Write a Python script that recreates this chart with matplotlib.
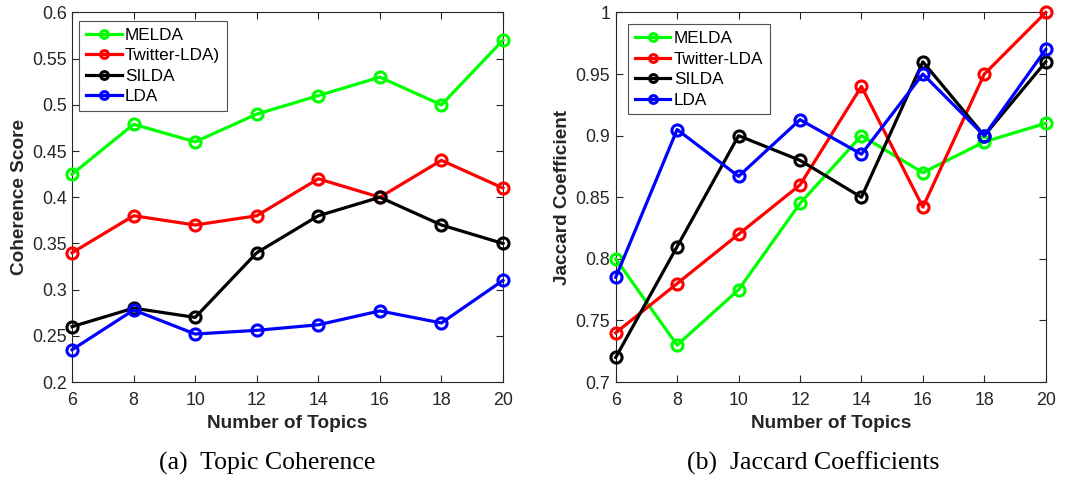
import numpy as np
import matplotlib
matplotlib.use('Agg')
import matplotlib.pyplot as plt

matplotlib.rc('font', **{'family': 'sans-serif',
                         'sans-serif': ['Liberation Sans'], 'size': 12})

topics = [6, 8, 10, 12, 14, 16, 18, 20]
names = ['MELDA', 'Twitter-LDA', 'SILDA', 'LDA']
colors = ['#00ff00', '#ff0000', '#000000', '#0000ff']

# topic coherence
coh_melda = [0.425, 0.479, 0.46, 0.49, 0.51, 0.53, 0.50, 0.57]
coh_twitter = [0.34, 0.38, 0.37, 0.38, 0.42, 0.40, 0.44, 0.41]
coh_silda = [0.26, 0.28, 0.27, 0.34, 0.38, 0.40, 0.37, 0.35]
coh_lda = [0.235, 0.278, 0.252, 0.256, 0.262, 0.277, 0.264, 0.31]

# jaccard coefficients
jac_melda = [0.80, 0.73, 0.775, 0.845, 0.90, 0.87, 0.895, 0.91]
jac_twitter = [0.74, 0.78, 0.82, 0.86, 0.94, 0.842, 0.95, 1.0]
jac_silda = [0.72, 0.81, 0.90, 0.88, 0.85, 0.96, 0.90, 0.96]
jac_lda = [0.785, 0.905, 0.867, 0.913, 0.885, 0.95, 0.90, 0.97]

gray = '#262626'

fig = plt.figure(figsize=(10.84, 4.8), dpi=100)
ax1 = fig.add_axes([0.0665, 0.204, 0.3975, 0.770])
ax2 = fig.add_axes([0.568, 0.204, 0.3967, 0.770])


def draw(ax, series, labels, ylim, yticks, yticklabels, ylabel, legpos):
    for y, lab, c in zip(series, labels, colors):
        ax.plot(topics, y, '-o', color=c, lw=2.3, ms=8, mew=2.2,
                mfc='none', label=lab, clip_on=False, zorder=3)
    ax.set_xlim(6, 20)
    ax.set_ylim(*ylim)
    ax.set_xticks(topics)
    ax.set_yticks(yticks)
    ax.set_yticklabels(yticklabels)
    ax.tick_params(direction='in', top=True, right=True, length=5,
                   width=0.8, colors=gray, labelsize=12.8)
    ax.tick_params(axis='x', pad=7.5)
    ax.tick_params(axis='y', pad=4)
    for s in ax.spines.values():
        s.set_color(gray)
        s.set_linewidth(0.8)
    ax.set_xlabel('Number of Topics', fontweight='bold', fontsize=13.7,
                  color=gray, labelpad=4)
    ax.set_ylabel(ylabel, fontweight='bold', fontsize=13.7, color=gray,
                  labelpad=3)
    leg = ax.legend(loc='upper left', bbox_to_anchor=legpos,
                    fancybox=False, handlelength=2.1, handletextpad=0.2,
                    borderpad=0.4, labelspacing=0.32, borderaxespad=0,
                    markerscale=0.7, fontsize=12.3)
    leg.get_frame().set_edgecolor(gray)
    leg.get_frame().set_linewidth(0.8)
    return ax


draw(ax1, [coh_melda, coh_twitter, coh_silda, coh_lda],
     ['MELDA', 'Twitter-LDA)', 'SILDA', 'LDA'], (0.2, 0.6),
     np.arange(0.2, 0.601, 0.05),
     ['0.2', '0.25', '0.3', '0.35', '0.4', '0.45', '0.5', '0.55', '0.6'],
     'Coherence Score', (0.016, 0.977))
draw(ax2, [jac_melda, jac_twitter, jac_silda, jac_lda], names,
     (0.7, 1.0), np.arange(0.7, 1.001, 0.05),
     ['0.7', '0.75', '0.8', '0.85', '0.9', '0.95', '1'],
     'Jaccard Coefficient', (0.028, 0.968))

fig.text(0.2465, 0.021, '(a)  Topic Coherence', ha='center',
         va='baseline', family='Liberation Serif', fontsize=18.5)
fig.text(0.750, 0.021, '(b)  Jaccard Coefficients', ha='center',
         va='baseline', family='Liberation Serif', fontsize=18.5)

fig.savefig('out.png', dpi=100)
